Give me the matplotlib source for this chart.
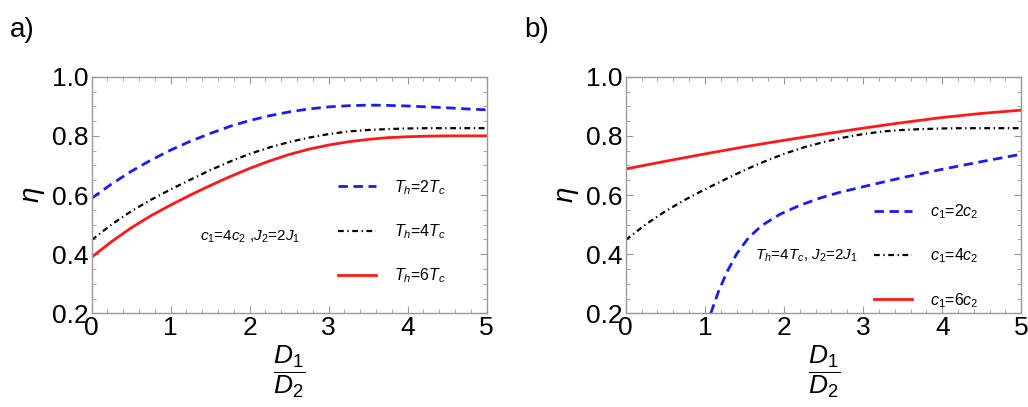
import matplotlib
matplotlib.use("Agg")
import matplotlib.pyplot as plt
from matplotlib.ticker import MultipleLocator

plt.rcParams['font.family'] = ['Liberation Sans', 'DejaVu Sans']
plt.rcParams['mathtext.fontset'] = 'custom'
plt.rcParams['mathtext.rm'] = 'Liberation Sans'
plt.rcParams['mathtext.it'] = 'Liberation Sans:italic'
plt.rcParams['mathtext.bf'] = 'Liberation Sans:bold'

# ratio D1/D2 for panel a (read every 0.25)
x_a = [0, 0.25, 0.5, 0.75, 1.0, 1.25, 1.5, 1.75, 2.0, 2.25, 2.5,
       2.75, 3.0, 3.25, 3.5, 3.75, 4.0, 4.25, 4.5, 4.75, 5.0]

# panel a: c1=4c2, J2=2J1
eta_th2 = [0.589, 0.637, 0.680, 0.718, 0.752, 0.782, 0.808, 0.832, 0.852, 0.868, 0.881,
           0.891, 0.898, 0.902, 0.904, 0.903, 0.901, 0.898, 0.895, 0.891, 0.888]
eta_th4 = [0.448, 0.500, 0.545, 0.584, 0.619, 0.652, 0.684, 0.713, 0.739, 0.761, 0.779,
           0.794, 0.806, 0.815, 0.820, 0.823, 0.825, 0.826, 0.826, 0.826, 0.826]
eta_th6 = [0.390, 0.442, 0.489, 0.530, 0.566, 0.600, 0.632, 0.662, 0.690, 0.715, 0.737,
           0.755, 0.769, 0.780, 0.788, 0.794, 0.797, 0.799, 0.800, 0.800, 0.800]

# panel b: Th=4Tc, J2=2J1
x_c2 = [1.075, 1.17, 1.28, 1.40, 1.55, 1.72, 1.95, 2.20, 2.46, 2.69, 3.0, 3.5, 4.0, 4.5, 5.0]
eta_c2 = [0.200, 0.272, 0.340, 0.400, 0.455, 0.497, 0.535, 0.565, 0.590, 0.608, 0.628,
          0.659, 0.687, 0.713, 0.738]
x_c4 = x_a
eta_c4 = eta_th4
x_c6 = [0, 0.5, 1.0, 1.5, 2.0, 2.5, 3.0, 3.5, 4.0, 4.5, 5.0]
eta_c6 = [0.688, 0.714, 0.739, 0.763, 0.785, 0.806, 0.826, 0.845, 0.862, 0.876, 0.887]

BLUE = '#1a1aff'
RED = '#ff1a1a'
FRAME = '#999999'

fig = plt.figure(figsize=(10.28, 4.07), dpi=100)
ax_a = fig.add_axes([0.0892, 0.2302, 0.3842, 0.5813])
ax_b = fig.add_axes([0.6087, 0.2302, 0.3848, 0.5813])


def style_axes(ax):
    ax.set_xlim(0, 5)
    ax.set_ylim(0.2, 1.0)
    ax.xaxis.set_major_locator(MultipleLocator(1))
    ax.xaxis.set_minor_locator(MultipleLocator(0.2))
    ax.yaxis.set_major_locator(MultipleLocator(0.2))
    ax.yaxis.set_minor_locator(MultipleLocator(0.05))
    ax.yaxis.set_major_formatter(plt.FuncFormatter(lambda v, p: f"{v:.1f}"))
    ax.tick_params(which='both', direction='in', top=True, right=True,
                   color=FRAME, labelsize=19, pad=2)
    ax.tick_params(which='major', length=5, width=0.8)
    ax.tick_params(which='minor', length=3, width=0.6)
    for s in ax.spines.values():
        s.set_color(FRAME)
        s.set_linewidth(1.0)
    ax.set_xlabel(r'$\dfrac{D_1}{D_2}$', fontsize=19, labelpad=2)
    ax.set_ylabel(r'$\eta$', fontsize=20, labelpad=4)


dash = (0, (3.4, 2.0))
dashdot = (0, (2.6, 1.6, 0.6, 1.6))

# panel a
ax_a.plot(x_a, eta_th2, color=BLUE, lw=2.0, ls=dash, label=r'$T_h$=2$T_c$')
ax_a.plot(x_a, eta_th4, color='black', lw=1.6, ls=dashdot, label=r'$T_h$=4$T_c$')
ax_a.plot(x_a, eta_th6, color=RED, lw=2.0, label=r'$T_h$=6$T_c$')
style_axes(ax_a)
ax_a.legend(loc='center left', bbox_to_anchor=(0.623, 0.345), frameon=False,
            fontsize=11.5, handlelength=2.4, handletextpad=1.1, labelspacing=1.6,
            borderpad=0, borderaxespad=0)
ax_a.text(1.37, 0.459, r'$c_1$=4$c_2$ ,$J_2$=2$J_1$', fontsize=11,
          ha='left', va='center')

# panel b
ax_b.plot(x_c2, eta_c2, color=BLUE, lw=2.0, ls=dash, label=r'$c_1$=2$c_2$')
ax_b.plot(x_c4, eta_c4, color='black', lw=1.6, ls=dashdot, label=r'$c_1$=4$c_2$')
ax_b.plot(x_c6, eta_c6, color=RED, lw=2.0, label=r'$c_1$=6$c_2$')
style_axes(ax_b)
ax_b.legend(loc='center left', bbox_to_anchor=(0.628, 0.242), frameon=False,
            fontsize=11.5, handlelength=2.4, handletextpad=1.1, labelspacing=1.6,
            borderpad=0, borderaxespad=0)
ax_b.text(1.63, 0.394, r'$T_h$=4$T_c$, $J_2$=2$J_1$', fontsize=11,
          ha='left', va='center')

fig.text(0.0097, 0.926, 'a)', fontsize=20, ha='left', va='center')
fig.text(0.5097, 0.926, 'b)', fontsize=20, ha='left', va='center')

fig.savefig('out.png', dpi=100)
